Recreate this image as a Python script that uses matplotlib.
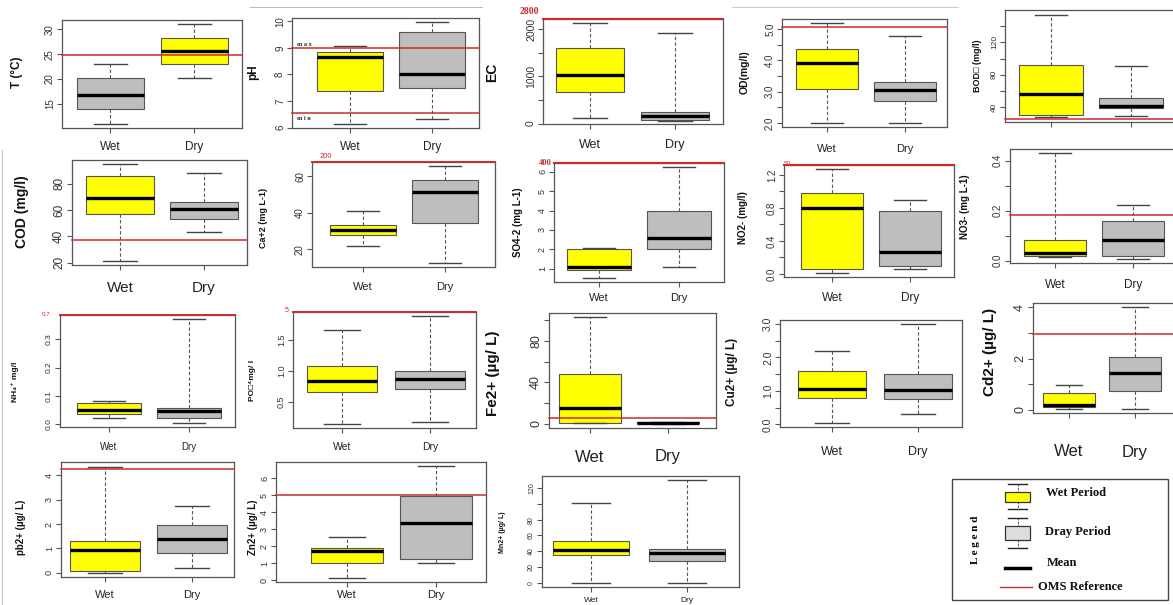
import matplotlib.pyplot as plt
from matplotlib.patches import Rectangle
from matplotlib.transforms import blended_transform_factory

plt.rcParams['font.family'] = ['Liberation Sans', 'DejaVu Sans']

# values: [lower whisker, Q1, median, Q3, upper whisker]
periods = ['Wet', 'Dry']
T_wet = [10.9, 13.9, 16.7, 20.1, 23.0]
T_dry = [20.1, 23.0, 25.7, 28.2, 31.1]
pH_wet = [6.15, 7.39, 8.64, 8.86, 9.08]
pH_dry = [6.31, 7.48, 8.0, 9.59, 9.98]
EC_wet = [123, 671, 1025, 1603, 2130]
EC_dry = [58, 72, 159, 253, 1913]
OD_wet = [2.0, 3.08, 3.90, 4.37, 5.19]
OD_dry = [2.0, 2.69, 3.06, 3.30, 4.77]
BOD_wet = [28, 31, 57, 92, 153.5]
BOD_dry = [29.6, 39, 41.2, 51.4, 91]
COD_wet = [21.3, 56.8, 68.8, 85.5, 95]
COD_dry = [43, 53.3, 60.5, 65.8, 88]
Ca_wet = [21.8, 27.6, 30.4, 33.5, 40.9]
Ca_dry = [12.4, 34.2, 51.3, 57.8, 65.6]
SO4_wet = [0.54, 0.95, 1.07, 2.0, 2.05]
SO4_dry = [1.11, 2.0, 2.57, 4.0, 6.23]
NO2_wet = [0.012, 0.061, 0.793, 0.977, 1.27]
NO2_dry = [0.061, 0.10, 0.264, 0.76, 0.894]
NO3_wet = [0.013, 0.02, 0.029, 0.084, 0.429]
NO3_dry = [0.007, 0.019, 0.083, 0.16, 0.223]
NH4_wet = [0.022, 0.037, 0.052, 0.074, 0.082]
NH4_dry = [0.006, 0.022, 0.048, 0.058, 0.37]
PO4_wet = [0.156, 0.667, 0.84, 1.08, 1.656]
PO4_dry = [0.177, 0.704, 0.866, 1.0, 1.876]
Fe_wet = [1, 1, 15, 48.3, 102.7]
Fe_dry = [0, 0.3, 0.8, 1.3, 2]
Cu_wet = [0.04, 0.8, 1.05, 1.6, 2.2]
Cu_dry = [0.3, 0.75, 1.02, 1.5, 3.0]
Cd_wet = [0.04, 0.13, 0.21, 0.65, 0.98]
Cd_dry = [0.04, 0.72, 1.44, 2.07, 4.0]
Pb_wet = [0.0, 0.08, 0.92, 1.3, 4.35]
Pb_dry = [0.2, 0.8, 1.37, 1.98, 2.73]
Zn_wet = [0.15, 0.99, 1.73, 1.9, 2.52]
Zn_dry = [0.99, 1.27, 3.36, 4.97, 6.7]
Mn_wet = [0, 35.3, 41.7, 53.6, 101]
Mn_dry = [0, 27.7, 37.4, 43, 130]

# OMS reference levels (red lines)
T_ref = [24.8]
pH_ref = [9.0, 6.55]
EC_ref = [2205]
OD_ref = [5.06]
BOD_ref = [26]
COD_ref = [37.5]
Ca_ref = [67.6]
SO4_ref = [6.46]
NO2_ref = [1.32]
NO3_ref = [0.183]
NH4_ref = [0.385]
PO4_ref = [1.945]
Fe_ref = [6]
Cd_ref = [2.95]
Pb_ref = [4.25]
Zn_ref = [5.0]

legend_labels = ['Wet Period', 'Dray Period', 'Mean', 'OMS Reference']

W, H = 1173, 605
YEL = '#ffff00'
GRY = '#bebebe'
RED = '#cc2b2b'
EDGE = '#555555'

fig = plt.figure(figsize=(W / 100, H / 100), dpi=100)


def stats(v):
    return dict(whislo=v[0], q1=v[1], med=v[2], q3=v[3], whishi=v[4])


def panel(frame, centers, wet, dry, ylim, ticks, labels, fs, refs=(),
          colors=(YEL, GRY), ref_lw=1.1):
    l, t, r, b = frame
    ax = fig.add_axes([l / W, 1 - b / H, (r - l) / W, (b - t) / H])
    art = ax.bxp([stats(wet), stats(dry)], positions=[1, 2], widths=0.8,
                 capwidths=0.4, patch_artist=True, showfliers=False,
                 boxprops=dict(edgecolor=EDGE, linewidth=0.8),
                 whiskerprops=dict(color=EDGE, linewidth=0.8, linestyle=(0, (3, 2))),
                 capprops=dict(color='#444444', linewidth=1.0),
                 medianprops=dict(color='black', linewidth=2.4, solid_capstyle='butt'))
    for p, c in zip(art['boxes'], colors):
        p.set_facecolor(c)
    for v in refs:
        ax.axhline(v, color=RED, lw=ref_lw, clip_on=False, zorder=5)
    c1, c2 = centers
    u = c2 - c1
    ax.set_xlim(1 - (c1 - l) / u, 2 + (r - c2) / u)
    ax.set_ylim(*ylim)
    ax.set_xticks([1, 2], ['', ''])
    ax.set_yticks(ticks, labels)
    ax.tick_params(axis='both', colors=EDGE, length=3.5, width=0.8, labelcolor='#333333')
    ax.tick_params(axis='y', labelsize=fs, pad=1.5)
    for tl in ax.get_yticklabels():
        tl.set_rotation(90)
        tl.set_va('center')
    for s in ax.spines.values():
        s.set_color(EDGE)
        s.set_linewidth(0.9)
    return ax


def xlabels(ax, y, fs):
    tr = blended_transform_factory(ax.transData, fig.transFigure)
    for x, s in zip([1, 2], periods):
        ax.text(x, 1 - y / H, s, transform=tr, ha='center', va='center',
                fontsize=fs, color='#222222', clip_on=False)


def ylab(x, y, s, fs):
    fig.text(x / W, 1 - y / H, s, rotation=90, ha='center', va='center',
             fontsize=fs, fontweight='bold', color='#111111')


def redtxt(x, y, s, fs, serif=False):
    fig.text(x / W, 1 - y / H, s, ha='center', va='center', fontsize=fs, color=RED,
             fontweight='bold' if serif else 'normal',
             family=['Liberation Serif'] if serif else ['Liberation Sans'])


# ---- row 1
ax = panel((62, 20, 242, 128), (110.5, 194.5), T_wet, T_dry, (10.1, 31.9),
           [15, 20, 25, 30], ['15', '20', '25', '30'], 7, T_ref, colors=(GRY, YEL))
xlabels(ax, 147, 8.5)
ylab(17, 72, 'T (°C)', 8.5)

ax = panel((292, 18, 479, 128), (350, 432), pH_wet, pH_dry, (5.99, 10.12),
           [6, 7, 8, 9, 10], ['6', '7', '8', '9', '10'], 7, pH_ref)
xlabels(ax, 147, 8.5)
ylab(253, 72, 'pH', 8.5)
for yy, s in [(44, 'm a x'), (118, 'm i n')]:
    fig.text(297 / W, 1 - yy / H, s, ha='left', va='center', fontsize=4.5,
             fontweight='bold', family=['Liberation Serif'], color='#222222')

ax = panel((543, 19, 723, 124), (590, 675), EC_wet, EC_dry, (-10, 2215),
           [0, 500, 1000, 1500, 2000], ['0', '', '1000', '', '2000'], 7.5, EC_ref, ref_lw=1.5)
xlabels(ax, 145, 9)
ylab(492, 72, 'EC', 10)
redtxt(529, 12, '2800', 7, serif=True)

ax = panel((782, 19, 947, 127), (827, 905), OD_wet, OD_dry, (1.87, 5.32),
           [2.0, 2.5, 3.0, 3.5, 4.0, 4.5, 5.0], ['2.0', '', '3.0', '', '4.0', '', '5.0'], 7, OD_ref)
xlabels(ax, 149, 8)
ylab(745, 72, 'OD(mg/l)', 7.5)

ax = panel((1005, 10, 1180, 122), (1051, 1131), BOD_wet, BOD_dry, (22, 159.6),
           [40, 60, 80, 100, 120, 140], ['40', '', '80', '', '120', ''], 6, BOD_ref)
ylab(978, 66, 'BOD\u25a1 (mg/l)', 6.5)

# ---- row 2
ax = panel((72, 160, 247, 265), (120, 204), COD_wet, COD_dry, (18.3, 98),
           [20, 40, 60, 80], ['20', '40', '60', '80'], 8.5, COD_ref)
xlabels(ax, 288, 11)
ylab(22, 212, 'COD (mg/l)', 10)

ax = panel((312, 162, 495, 267), (363, 445), Ca_wet, Ca_dry, (10.3, 67.7),
           [20, 40, 60], ['20', '40', '60'], 7, Ca_ref, ref_lw=1.4)
xlabels(ax, 287, 8)
ylab(263, 218, 'Ca+2 (mg L-1)', 6.5)
redtxt(326, 157, '200', 5.5)

ax = panel((554, 163, 724, 282), (599, 679), SO4_wet, SO4_dry, (0.31, 6.46),
           [1, 2, 3, 4, 5, 6], ['1', '2', '3', '4', '5', '6'], 6.5, SO4_ref, ref_lw=1.5)
xlabels(ax, 298, 8)
ylab(518, 222, 'SO4-2 (mg L-1)', 7)
redtxt(545, 163, '400', 6, serif=True)

ax = panel((784, 165, 954, 277), (832, 910), NO2_wet, NO2_dry, (-0.038, 1.32),
           [0.0, 0.2, 0.4, 0.6, 0.8, 1.0, 1.2], ['0.0', '', '0.4', '', '0.8', '', '1.2'], 7,
           NO2_ref, ref_lw=1.5)
xlabels(ax, 298, 8.5)
ylab(743, 218, 'NO2- (mg/l)', 7)
redtxt(787, 163, '50', 4.5)

ax = panel((1010, 149, 1180, 263), (1055, 1133), NO3_wet, NO3_dry, (-0.01, 0.446),
           [0.0, 0.1, 0.2, 0.3, 0.4], ['0.0', '', '0.2', '', '0.4'], 7, NO3_ref)
xlabels(ax, 285, 8.5)
ylab(965, 207, 'NO3- (mg L-1)', 7)

# ---- row 3
ax = panel((60, 315, 235, 427), (109, 189), NH4_wet, NH4_dry, (-0.009, 0.385),
           [0.0, 0.1, 0.2, 0.3], ['0.0', '0.1', '0.2', '0.3'], 6, NH4_ref, ref_lw=1.4)
xlabels(ax, 447, 7)
ylab(15, 382, 'NH\u2084\u207a mg/l', 6)
redtxt(46, 314, '0,7', 4.5)

ax = panel((293, 312, 476, 428), (342, 430), PO4_wet, PO4_dry, (0.087, 1.945),
           [0.5, 1.0, 1.5], ['0.5', '1.0', '1.5'], 6.5, PO4_ref, ref_lw=1.4)
xlabels(ax, 447, 7.5)
ylab(253, 380, 'PO\u25a1\u2074mg/ l', 6)
redtxt(287, 311, '5', 5)

ax = panel((549, 313, 716, 428), (590, 668), Fe_wet, Fe_dry, (-4.1, 106.8),
           [0, 20, 40, 60, 80, 100], ['0', '', '40', '', '80', ''], 9, Fe_ref)
xlabels(ax, 457, 12)
ylab(493, 373, 'Fe2+ (µg/ L)', 11)

ax = panel((780, 320, 962, 427), (832, 918), Cu_wet, Cu_dry, (-0.078, 3.118),
           [0.0, 0.5, 1.0, 1.5, 2.0, 2.5, 3.0], ['0.0', '', '1.0', '', '2.0', '', '3.0'], 7.5)
xlabels(ax, 452, 9)
ylab(732, 372, 'Cu2+ (µg/ L)', 8.5)

ax = panel((1033, 303, 1180, 413), (1069, 1135), Cd_wet, Cd_dry, (-0.12, 4.16),
           [0, 1, 2, 3, 4], ['0', '', '2', '', '4'], 9, Cd_ref)
xlabels(ax, 452, 12)
ylab(990, 352, 'Cd2+ (µg/ L)', 11)

# ---- row 4
ax = panel((61, 462, 234, 577), (105, 192), Pb_wet, Pb_dry, (-0.175, 4.55),
           [0, 1, 2, 3, 4], ['0', '1', '2', '3', '4'], 6.5, Pb_ref)
xlabels(ax, 595, 8)
ylab(21, 527, 'pb2+ (µg/ L)', 7)

ax = panel((276, 462, 486, 582), (347, 436), Zn_wet, Zn_dry, (-0.11, 6.96),
           [0, 1, 2, 3, 4, 5, 6], ['0', '1', '2', '3', '4', '5', '6'], 6.5, Zn_ref)
xlabels(ax, 595, 8)
ylab(253, 527, 'Zn2+ (µg/ L)', 7)

ax = panel((542, 476, 739, 587), (591, 687), Mn_wet, Mn_dry, (-5.2, 135.2),
           [0, 20, 40, 60, 80, 100, 120], ['0', '20', '40', '60', '80', '', '120'], 5)
xlabels(ax, 600, 6)
ylab(503, 532, 'Mn2+ (µg/ L)', 5)

# ---- legend box and collage edges, drawn in pixel units
ov = fig.add_axes([0, 0, 1, 1])
ov.set_xlim(0, W)
ov.set_ylim(H, 0)
ov.axis('off')
ov.plot([250, 482], [7, 7], color='#bbbbbb', lw=0.8)
ov.plot([732, 958], [7, 7], color='#cccccc', lw=0.8)
ov.plot([2, 2], [150, 605], color='#cccccc', lw=1)

ov.add_patch(Rectangle((952, 479), 216, 121, fill=False, edgecolor='#444444', lw=1))
ov.text(975, 540, 'L e g e n d', rotation=90, ha='center', va='center', fontsize=8,
        fontweight='bold', family=['Liberation Serif'])
for (ctop, btop, bbot, cbot), fc in [((484, 492, 502, 509), YEL), ((518, 526, 540, 548), '#dedede')]:
    ov.plot([1008, 1027], [ctop, ctop], color='#222222', lw=1)
    ov.plot([1008, 1027], [cbot, cbot], color='#222222', lw=1)
    ov.plot([1017.5, 1017.5], [ctop, btop], color='#444444', lw=0.7, ls=(0, (2, 1.5)))
    ov.plot([1017.5, 1017.5], [bbot, cbot], color='#444444', lw=0.7, ls=(0, (2, 1.5)))
    ov.add_patch(Rectangle((1005, btop), 25, bbot - btop, facecolor=fc, edgecolor='#333333', lw=0.9))
ov.plot([1005, 1030], [568, 568], color='black', lw=2.5)
ov.plot([1000, 1032], [587, 587], color=RED, lw=1)
for (x, y), s in zip([(1046, 493), (1045, 532), (1047, 563), (1038, 587)], legend_labels):
    ov.text(x, y, s, ha='left', va='center', fontsize=9, fontweight='bold',
            family=['Liberation Serif'], color='#111111')

fig.savefig('out.png', dpi=100)
